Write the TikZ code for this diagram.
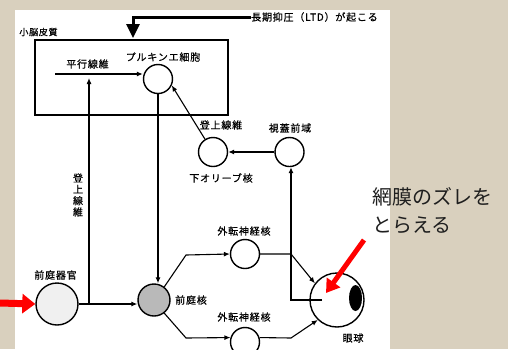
\documentclass[tikz,border=0pt]{standalone}
\usepackage{fontspec}
\newfontfamily\jp[LetterSpace=8,FakeBold=0.6]{Noto Sans CJK JP}
\newfontfamily\jpbig{Noto Sans CJK JP}
\usetikzlibrary{arrows.meta}
\definecolor{linen}{HTML}{D9D0BE}
\definecolor{bigtxt}{HTML}{1E1E1E}
\begin{document}
\begin{tikzpicture}[x=1pt,y=-1pt,
  nuc/.style={circle, draw, line width=1.4pt, minimum size=29pt, inner sep=0pt},
  lbl/.style={font=\jp\fontsize{10}{11}\selectfont, inner sep=0pt},
  conn/.style={line width=1.1pt, -{Latex[length=6pt,width=5pt]}},
  plain/.style={line width=1.1pt},
  redarrow/.style={draw=red, line width=5pt, -{Triangle[length=13pt,width=16pt]}, red}
]
\useasboundingbox (0,0) rectangle (508,349);
\fill[linen] (0,0) rectangle (508,349);
\fill[white] (15,10) rectangle (390,349);

% cortex box
\node[draw, line width=1.1pt, minimum width=193pt, minimum height=75pt, inner sep=0pt] (cortex) at (131.5,77.5) {};
\node[lbl, font=\jp\fontsize{9}{10}\selectfont] (cortexlbl) at (38.5,32) {小脳皮質};

% LTD arrow
\node[lbl, anchor=west] (ltdlbl) at (251,17) {長期抑圧（LTD）が起こる};
\coordinate (ltdc) at (133,17);
\coordinate (ltdend) at (133,38);
\draw[line width=3pt, -{Triangle[length=14pt,width=13pt]}] (ltdlbl.west) -- (ltdc) -- (ltdend);

% nuclei
\node[nuc] (pk) at (158,79) {};
\node[lbl] (pklbl) at (163,57) {プルキンエ細胞};
\node[lbl] (pflbl) at (87.5,64) {平行線維};
\coordinate (pf) at (55,74);

\node[nuc] (io) at (213,152) {};
\node[lbl] (cflbl) at (221,125) {登上線維};
\node[lbl] (iolbl) at (221,178) {下オリーブ核};

\node[nuc] (pt) at (289.5,152) {};
\node[lbl] (ptlbl) at (290,128) {視蓋前域};

\node[nuc, minimum size=32pt, fill=gray!55] (vn) at (154,300) {};
\node[lbl, anchor=west] (vnlbl) at (175,300) {前庭核};

\node[nuc, minimum size=42pt, fill=gray!12] (vo) at (57,304) {};
\node[lbl] (volbl) at (55.5,275) {前庭器官};

\node[nuc] (ab1) at (245,254) {};
\node[lbl] (ab1lbl) at (244,231) {外転神経核};
\node[nuc] (ab2) at (245,342) {};
\node[lbl] (ab2lbl) at (244,317) {外転神経核};

\node[circle, draw, line width=1.4pt, minimum size=54pt, inner sep=0pt] (eye) at (337,300) {};
\fill (355.5,298) ellipse (6.5 and 13);
\node[lbl] (eyelbl) at (353,338) {眼球};

% vertical climbing fiber label
\node[lbl, align=center, font=\jp\fontsize{10}{11.3}\selectfont] (cfv) at (78,195) {登\\上\\線\\維};

% connectors
\draw[conn] (pf) -- (pf -| pk.west);
\coordinate (j1) at (89,304);
\coordinate (cftop) at (89,78);
\draw[plain] (vo.east |- j1) -- (j1);
\draw[conn] (j1) -- (vn.west |- j1);
\draw[conn] (j1) -- (cftop);
\draw[conn] (pk.south) -- (pk.south |- vn.north);
\draw[conn] (io.122) -- (pk.-25);
\draw[conn] (pt.west) -- (io.east);
\coordinate (e1) at (322,300);
\coordinate (e2) at (291,300);
\draw[conn] (e1) -- (e2) -- (e2 |- pt.south);

\coordinate (v1) at (186,255);
\coordinate (v2) at (186,338);
\draw[conn] (vn.52) -- (v1) -- (ab1.west);
\draw[conn] (vn.-52) -- (v2) -- (ab2.163);
\coordinate (a1) at (291,254);
\coordinate (a2) at (291,338);
\draw[conn] (ab1.east) -- (a1) -- (eye.143);
\draw[conn] (ab2.17) -- (a2) -- (eye.226);

% red arrows
\coordinate (r1s) at (364,240);
\coordinate (r1e) at (326,293);
\draw[redarrow] (r1s) -- (r1e);
\coordinate (r2s) at (0,303);
\draw[draw=red, line width=7pt, -{Triangle[length=13pt,width=19pt]}, red] (r2s) -- (vo.west);

% big text
\node[anchor=west, inner sep=0pt, font=\jpbig\fontsize{20}{24}\selectfont, text=bigtxt] (ret1) at (372,197) {網膜のズレを};
\node[anchor=west, inner sep=0pt, font=\jpbig\fontsize{20}{24}\selectfont, text=bigtxt] (ret2) at (372,225) {とらえる};
\end{tikzpicture}
\end{document}
